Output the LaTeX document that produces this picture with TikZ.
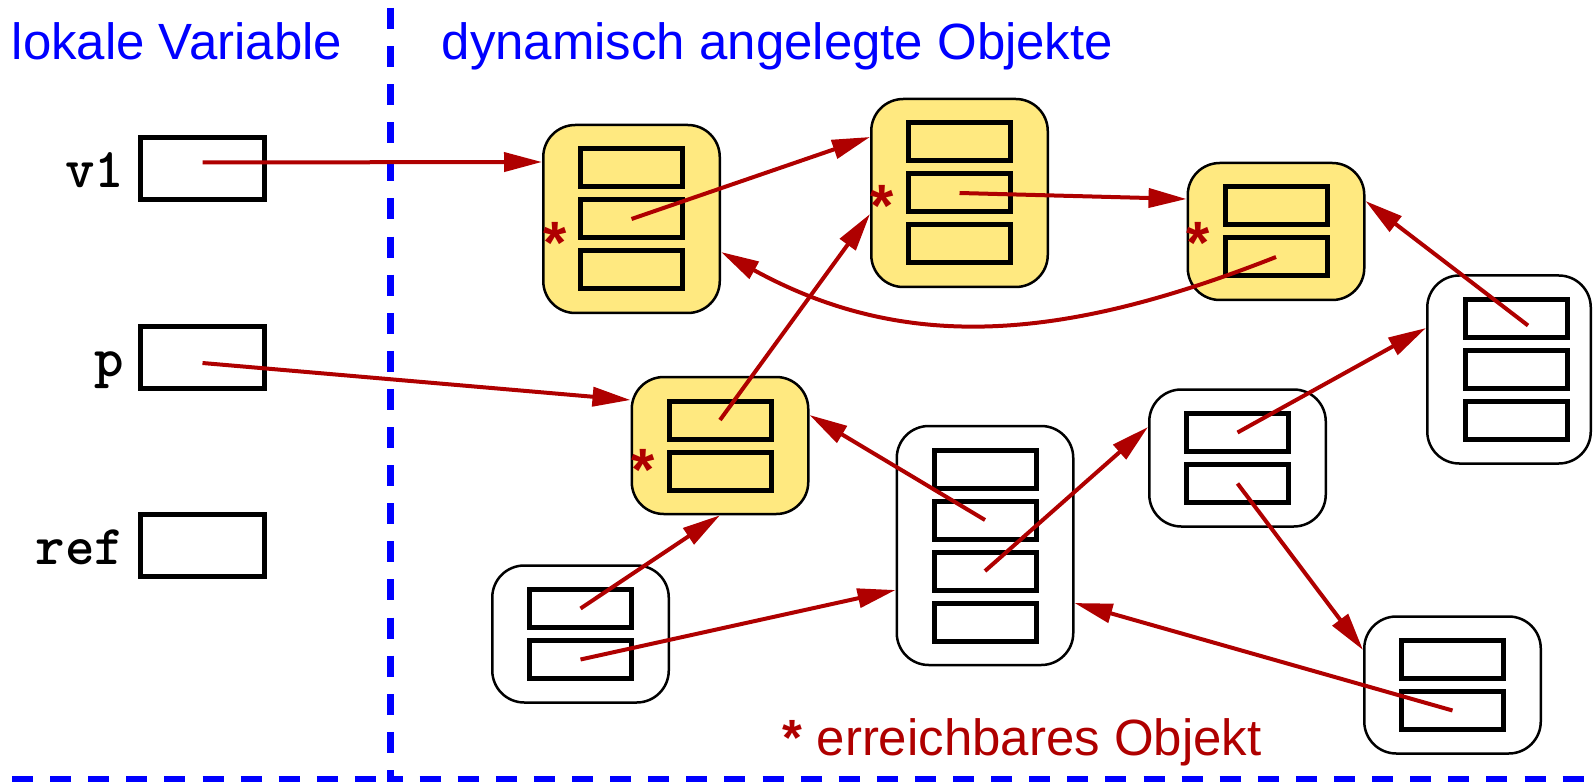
\documentclass[tikz,border=0pt]{standalone}
\usepackage{fontspec}
\setmainfont{Liberation Sans}
\usetikzlibrary{arrows.meta}

\definecolor{objyellow}{RGB}{255,233,128}
\definecolor{ptrred}{RGB}{175,0,0}
\definecolor{sepblue}{RGB}{0,0,255}

\begin{document}
\begin{tikzpicture}[x=0.1mm, y=-0.1mm,
  heading/.style={text=sepblue, font=\fontsize{14.5pt}{17pt}\selectfont, inner sep=0pt},
  varname/.style={font=\ttfamily\bfseries\fontsize{16pt}{19pt}\selectfont, inner sep=0pt},
  varbox/.style={draw, line width=0.5mm, minimum width=12.4mm, minimum height=6.2mm, inner sep=0pt},
  obj/.style={draw, line width=0.25mm, rounded corners=3.2mm, inner sep=0pt},
  field/.style={draw, line width=0.5mm, minimum width=10.2mm, minimum height=3.8mm, inner sep=0pt},
  ptr/.style={draw=ptrred, line width=0.4mm, -{Triangle[length=3.8mm, width=1.9mm]}},
  reach/.style={text=ptrred, font=\fontsize{14.5pt}{17pt}\selectfont, inner sep=0pt, anchor=base},
  reachstar/.style={text=ptrred, font=\bfseries\fontsize{17pt}{20pt}\selectfont, inner sep=0pt, anchor=base},
  divider/.style={draw=sepblue, line width=0.65mm, dash pattern=on 2.1mm off 1.71mm}]

\useasboundingbox (0,0) rectangle (1593,782);

% Dashed separators
\draw[divider] (390.5,8) -- (390.5,779) -- (1593,779);
\draw[divider] (12,779) -- (390.5,779);

% Headings
\node[heading, anchor=base west] (lokal) at (11,60) {lokale Variable};
\node[heading, anchor=base west] (dyn) at (441,60) {dynamisch angelegte Objekte};

% Local variables
\node[varbox] (v1) at (202.5,168.5) {};
\node[varbox] (p) at (202.5,357) {};
\node[varbox] (ref) at (202.5,545.5) {};
\foreach \v in {v1,p,ref}
  \node[varname, anchor=base east] at ([shift={(-13,19)}]\v.west) {\v};

% Objects on the heap (name/x/y/width/field x/fields/fill)
\foreach \name/\x/\y/\w/\fx/\n/\col in {
    obj1/631.5/219/176.5/631.5/3/objyellow,
    obj2/959.5/193/176.5/959.5/3/objyellow,
    obj3/1276/231.5/176.5/1276/2/objyellow,
    obj4/1509/369.5/163.5/1516/3/white,
    objP/720/445.5/176.5/720/2/objyellow,
    obj5/1237.5/458/176.5/1237.5/2/white,
    obj7/985/545.5/176.5/985/4/white,
    obj8/580.5/634/176.5/580.5/2/white,
    obj6/1452.5/685/176.5/1452.5/2/white} {
  \node[obj, fill=\col, minimum width={\w*0.1mm}, minimum height={(51*\n+35)*0.1mm}] (\name) at (\x,\y) {};
  \foreach \i in {1,...,\n}
    \node[field] (\name f\i) at (\fx,{\y+(\i-(\n+1)/2)*51}) {};
}

% Pointers
\draw[ptr] ([yshift=0.6mm]v1.center) -- ([yshift=5.7mm]obj1.west);
\draw[ptr] ([yshift=-0.6mm]p.center) -- ([yshift=4.55mm]objP.west);
\draw[ptr] (obj1f2.center) -- ([yshift=5.6mm]obj2.west);
\draw[ptr] (obj2f2.center) -- ([yshift=3.25mm]obj3.west);
\draw[ptr] (obj3f2.center) .. controls (1070,338) and (910,356) .. ([yshift=-3.3mm]obj1.east);
\draw[ptr] (objPf1.center) -- ([yshift=-2.1mm]obj2.west);
\draw[ptr] ([shift={(12,7)}]obj4f1.center) -- ([yshift=3.05mm]obj3.east);
\draw[ptr] (obj5f1.center) -- ([yshift=4.15mm]obj4.west);
\draw[ptr] (obj5f2.center) -- ([yshift=3.5mm]obj6.west);
\draw[ptr] (obj6f2.center) -- ([yshift=-5.75mm]obj7.east);
\draw[ptr] (obj7f2.center) -- ([yshift=3.05mm]objP.east);
\draw[ptr] (obj7f3.center) -- ([yshift=3.1mm]obj5.west);
\draw[ptr] (obj8f1.center) -- (objP.south);
\draw[ptr] (obj8f2.center) -- ([yshift=-4.45mm]obj7.west);

% Reachable marks
\node[reachstar] at ([shift={(13,45)}]obj1.west) {*};
\node[reachstar] at ([shift={(12,33.5)}]obj2.west) {*};
\node[reachstar] at ([shift={(12,32.5)}]obj3.west) {*};
\node[reachstar] at ([shift={(13,45)}]objP.west) {*};
\node[reach, anchor=base west] (legend) at (782,755) {\textbf{*} erreichbares Objekt};
\end{tikzpicture}
\end{document}
